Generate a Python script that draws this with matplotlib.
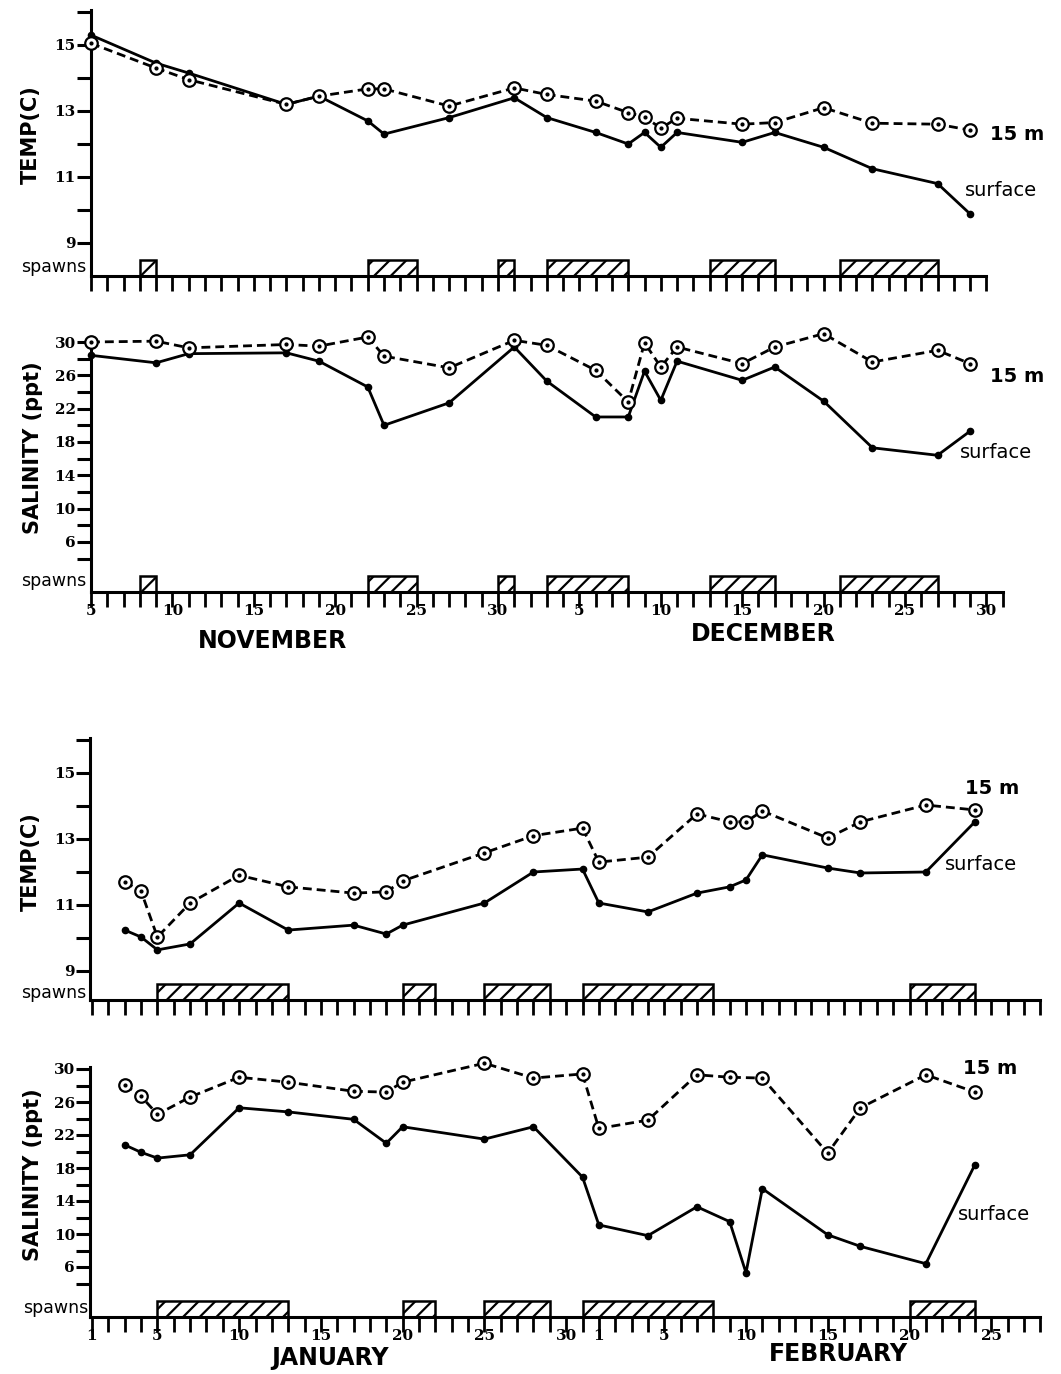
import matplotlib
matplotlib.use('Agg')
import matplotlib.pyplot as plt

W, H = 1061, 1374
fig = plt.figure(figsize=(W / 100, H / 100), dpi=100)
plt.rcParams['hatch.linewidth'] = 1.6

# ---------------- data ----------------
# Nov-Dec: day number = Nov d -> d, Dec d -> 30 + d
nd_days = [5, 9, 11, 17, 19, 22, 23, 27, 31, 33, 36, 38, 39, 40, 41, 45, 47, 50, 53, 57, 59]
nd_temp_surface = [15.3, 14.45, 14.15, 13.2, 13.45, 12.7, 12.3, 12.8, 13.4, 12.8, 12.35,
                   12.0, 12.35, 11.9, 12.35, 12.05, 12.35, 11.9, 11.25, 10.8, 9.88]
nd_temp_15m = [15.05, 14.3, 13.95, 13.2, 13.45, 13.67, 13.67, 13.15, 13.7, 13.5, 13.3,
               12.95, 12.82, 12.48, 12.78, 12.6, 12.65, 13.1, 12.63, 12.6, 12.42]
nd_sal_surface = [28.4, 27.5, 28.6, 28.7, 27.7, 24.6, 20.0, 22.7, 29.4, 25.3, 21.0,
                  21.0, 26.5, 23.0, 27.7, 25.4, 27.0, 22.9, 17.3, 16.4, 19.3]
nd_sal_15m = [30.0, 30.1, 29.3, 29.7, 29.5, 30.6, 28.3, 26.9, 30.2, 29.6, 26.6,
              22.8, 29.9, 27.0, 29.4, 27.4, 29.4, 31.0, 27.6, 29.0, 27.4]
nd_spawn_start = [8, 22, 30, 33, 43, 51]
nd_spawn_end = [9, 25, 31, 38, 47, 57]
nd_tick_pos = [5, 10, 15, 20, 25, 30, 35, 40, 45, 50, 55, 60]
nd_tick_lab = ['5', '10', '15', '20', '25', '30', '5', '10', '15', '20', '25', '30']

# Jan-Feb: day number = Jan d -> d, Feb d -> 31 + d
jf_days = [3, 4, 5, 7, 10, 13, 17, 19, 20, 25, 28, 31, 32, 35, 38, 40, 41, 42, 46, 48, 52, 55]
jf_temp_surface = [10.24, 10.03, 9.64, 9.82, 11.06, 10.24, 10.39, 10.12, 10.39, 11.06, 12.0,
                   12.09, 11.06, 10.79, 11.36, 11.55, 11.76, 12.52, 12.12, 11.97, 12.0, 13.52]
jf_temp_15m = [11.7, 11.42, 10.03, 11.06, 11.9, 11.55, 11.36, 11.4, 11.73, 12.58, 13.1,
               13.33, 12.3, 12.45, 13.76, 13.52, 13.52, 13.85, 13.03, 13.52, 14.03, 13.88]
jf_sal_surface = [20.8, 19.9, 19.2, 19.6, 25.3, 24.8, 23.9, 21.0, 23.0, 21.5, 23.0,
                  16.9, 11.1, 9.8, 13.3, 11.5, 5.3, 15.5, 9.9, 8.5, 6.4, 18.4]
jf_sal15_days = [3, 4, 5, 7, 10, 13, 17, 19, 20, 25, 28, 31, 32, 35, 38, 40, 42, 46, 48, 52, 55]
jf_sal_15m = [28.1, 26.7, 24.5, 26.6, 29.0, 28.4, 27.3, 27.2, 28.4, 30.7, 28.9,
              29.4, 22.8, 23.8, 29.3, 29.0, 28.9, 19.8, 25.3, 29.3, 27.2]
jf_spawn_start = [5, 20, 25, 31, 51]
jf_spawn_end = [13, 22, 29, 39, 55]
jf_tick_pos = [1, 5, 10, 15, 20, 25, 30, 32, 36, 41, 46, 51, 56]
jf_tick_lab = ['1', '5', '10', '15', '20', '25', '30', '1', '5', '10', '15', '20', '25']

temp_ticks = [9, 10, 11, 12, 13, 14, 15, 16]
temp_labels = ['9', '', '11', '', '13', '', '15', '']
sal_ticks = list(range(4, 31, 2))
sal_labels = [str(v) if v in (6, 10, 14, 18, 22, 26, 30) else '' for v in sal_ticks]

NUMFONT = dict(family='DejaVu Serif', weight='bold', size=11)


def make_ax(xmap, ymap, xlim, ylim):
    """xmap=(px, day, px_per_day), ymap=(px, value, px_per_unit)"""
    xp0, d0, sx = xmap
    yp0, v0, sy = ymap
    left = xp0 + (xlim[0] - d0) * sx
    right = xp0 + (xlim[1] - d0) * sx
    top = yp0 - (ylim[1] - v0) * sy
    bottom = yp0 - (ylim[0] - v0) * sy
    ax = fig.add_axes([left / W, 1 - bottom / H, (right - left) / W, (bottom - top) / H])
    ax.set_xlim(xlim)
    ax.set_ylim(ylim)
    ax.patch.set_alpha(0)
    return ax


def style_ax(ax, base, ytop, x0, x1, ticks_x, yt, ytl, tick_len_px=15,
             xlab_pos=None, xlab_txt=None):
    for s in ('top', 'right'):
        ax.spines[s].set_visible(False)
    ax.spines['left'].set_position(('data', x0))
    ax.spines['left'].set_bounds(base, ytop)
    ax.spines['bottom'].set_position(('data', base))
    ax.spines['bottom'].set_bounds(x0, x1)
    for s in ('left', 'bottom'):
        ax.spines[s].set_linewidth(2.2)
    ax.set_yticks(yt)
    ax.set_yticklabels(ytl, fontdict=NUMFONT)
    ax.tick_params(axis='y', direction='out', length=10, width=2.2, pad=1)
    if xlab_pos is None:
        ax.set_xticks(ticks_x)
        ax.set_xticklabels([''] * len(ticks_x))
    else:
        ax.set_xticks(ticks_x, minor=True)
        ax.set_xticks(xlab_pos)
        ax.set_xticklabels(xlab_txt, fontdict=NUMFONT)
    ax.tick_params(axis='x', which='both', direction='out', length=tick_len_px * 0.72,
                   width=2.0, pad=-2)


def plot_series(ax, d_s, v_s, d_m, v_m):
    ax.plot(d_s, v_s, '-', color='black', lw=2.0, marker='o', ms=4.5,
            mfc='black', mec='black', clip_on=False, zorder=3)
    ax.plot(d_m, v_m, color='black', lw=2.0, ls=(0, (3.2, 1.8)), marker='o', ms=9,
            mfc='white', mec='black', mew=1.6, clip_on=False, zorder=4)
    ax.plot(d_m, v_m, ls='none', marker='o', ms=2, color='black', zorder=5, clip_on=False)


def spawns(ax, base, h, starts, ends):
    widths = [e - s for s, e in zip(starts, ends)]
    ax.bar(starts, [h] * len(starts), width=widths, bottom=base, align='edge',
           facecolor='white', edgecolor='black', linewidth=1.8, hatch='//', zorder=2)


def ftext(xpx, ypx, s, **kw):
    fig.text(xpx / W, 1 - ypx / H, s, **kw)


# ---------------- Panel A: Nov-Dec temperature ----------------
axA = make_ax((91, 5, 16.28), (45, 15, 33), (3, 63), (7.0, 16.3))
style_ax(axA, 8.0, 16.06, 5, 60, list(range(5, 61)), temp_ticks, temp_labels)
spawns(axA, 8.0, 0.5, nd_spawn_start, nd_spawn_end)
plot_series(axA, nd_days, nd_temp_surface, nd_days, nd_temp_15m)

# ---------------- Panel B: Nov-Dec salinity ----------------
axB = make_ax((91, 5, 16.28), (342, 30, 8.33), (3, 63), (-3, 31.5))
style_ax(axB, 0.0, 30.2, 5, 61, list(range(5, 62)), sal_ticks, sal_labels,
         xlab_pos=nd_tick_pos, xlab_txt=nd_tick_lab)
spawns(axB, 0.0, 1.9, nd_spawn_start, nd_spawn_end)
plot_series(axB, nd_days, nd_sal_surface, nd_days, nd_sal_15m)

# ---------------- Panel C: Jan-Feb temperature ----------------
axC = make_ax((92, 1, 16.35), (839, 13, 33), (-1, 61), (7.0, 16.3))
style_ax(axC, 8.12, 16.05, 0.9, 59, list(range(1, 60)), temp_ticks, temp_labels)
spawns(axC, 8.12, 0.5, jf_spawn_start, jf_spawn_end)
plot_series(axC, jf_days, jf_temp_surface, jf_days, jf_temp_15m)

# ---------------- Panel D: Jan-Feb salinity ----------------
axD = make_ax((92, 1, 16.35), (1069, 30, 8.25), (-1, 61), (-3, 31.5))
style_ax(axD, 0.0, 30.2, 0.9, 59, list(range(1, 60)), sal_ticks, sal_labels,
         xlab_pos=jf_tick_pos, xlab_txt=jf_tick_lab)
spawns(axD, 0.0, 1.9, jf_spawn_start, jf_spawn_end)
plot_series(axD, jf_days, jf_sal_surface, jf_sal15_days, jf_sal_15m)

# ---------------- texts ----------------
ylab = dict(rotation=90, ha='center', va='center', fontsize=15, fontweight='bold')
ftext(31, 135, 'TEMP(C)', **ylab)
ftext(33, 448, 'SALINITY (ppt)', **ylab)
ftext(31, 862, 'TEMP(C)', **ylab)
ftext(33, 1175, 'SALINITY (ppt)', **ylab)

sp = dict(ha='right', va='center', fontsize=12.5)
ftext(86, 267, 'spawns', **sp)
ftext(86, 581, 'spawns', **sp)
ftext(86, 993, 'spawns', **sp)
ftext(88, 1308, 'spawns', **sp)

lab = dict(ha='left', va='center', fontsize=14)
ftext(990, 135, '15 m', fontweight='bold', **lab)
ftext(965, 191, 'surface', **lab)
ftext(990, 376, '15 m', fontweight='bold', **lab)
ftext(960, 452, 'surface', **lab)
ftext(965, 788, '15 m', fontweight='bold', **lab)
ftext(945, 864, 'surface', **lab)
ftext(963, 1068, '15 m', fontweight='bold', **lab)
ftext(958, 1214, 'surface', **lab)

mon = dict(ha='center', va='center', fontsize=17, fontweight='bold')
ftext(272, 641, 'NOVEMBER', **mon)
ftext(763, 634, 'DECEMBER', **mon)
ftext(330, 1358, 'JANUARY', **mon)
ftext(838, 1354, 'FEBRUARY', **mon)

fig.savefig('out.png', dpi=100)
